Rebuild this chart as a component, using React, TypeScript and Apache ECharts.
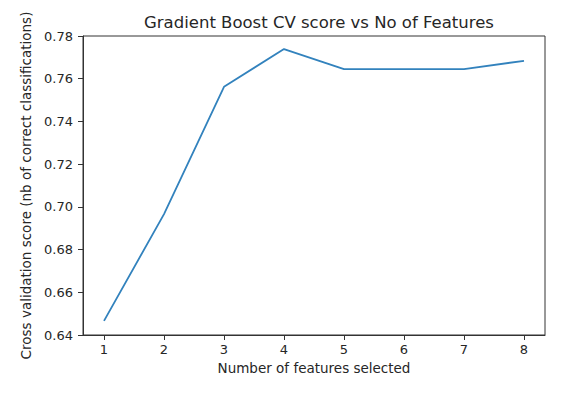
import React, { useEffect, useRef } from "react";
import * as echarts from "echarts";

const features = [1, 2, 3, 4, 5, 6, 7, 8];
const scores = [0.6466, 0.6966, 0.7562, 0.7739, 0.7645, 0.7645, 0.7645, 0.7684];
const xTicks = [1, 2, 3, 4, 5, 6, 7, 8];

const FONT = "'DejaVu Sans', sans-serif";
const TEXT = "#262626";

export default function App() {
  const ref = useRef<HTMLDivElement>(null);
  useEffect(() => {
    document.body.style.margin = "0";
    const chart = echarts.init(ref.current!, null, { renderer: "svg" });
    chart.setOption({
      animation: false,
      backgroundColor: "#ffffff",
      title: {
        text: "Gradient Boost CV score vs No of Features",
        left: 314,
        top: 9,
        textAlign: "center",
        textStyle: { fontFamily: FONT, fontSize: 16.5, fontWeight: "normal", color: TEXT },
      },
      grid: {
        left: 83,
        right: 17,
        top: 36,
        bottom: 58,
        show: true,
        borderColor: "#333",
        borderWidth: 1,
      },
      xAxis: {
        type: "value",
        min: 0.65,
        max: 8.35,
        name: "Number of features selected",
        nameLocation: "middle",
        nameGap: 26,
        nameTextStyle: { fontFamily: FONT, fontSize: 13.5, color: TEXT },
        splitLine: { show: false },
        axisLine: { show: true, lineStyle: { color: "#333" } },
        axisTick: { show: true, length: 5, customValues: xTicks, lineStyle: { color: "#333" } },
        axisLabel: {
          customValues: xTicks,
          fontFamily: FONT,
          fontSize: 13,
          color: TEXT,
          margin: 8,
        },
      },
      yAxis: {
        type: "value",
        min: 0.64,
        max: 0.78,
        interval: 0.02,
        name: "Cross validation score (nb of correct classifications)",
        nameLocation: "middle",
        nameGap: 50,
        nameTextStyle: { fontFamily: FONT, fontSize: 13.5, color: TEXT },
        splitLine: { show: false },
        axisLine: { show: true, lineStyle: { color: "#333" } },
        axisTick: { show: true, length: 5, lineStyle: { color: "#333" } },
        axisLabel: {
          fontFamily: FONT,
          fontSize: 13,
          color: TEXT,
          margin: 10,
          formatter: (v: number) => v.toFixed(2),
        },
      },
      series: [
        {
          type: "line",
          data: features.map((f, i) => [f, scores[i]]),
          showSymbol: false,
          lineStyle: { color: "#3282bd", width: 1.8 },
          itemStyle: { color: "#3282bd" },
        },
      ],
    });
    return () => chart.dispose();
  }, []);
  return <div ref={ref} style={{ width: 562, height: 393 }} />;
}
